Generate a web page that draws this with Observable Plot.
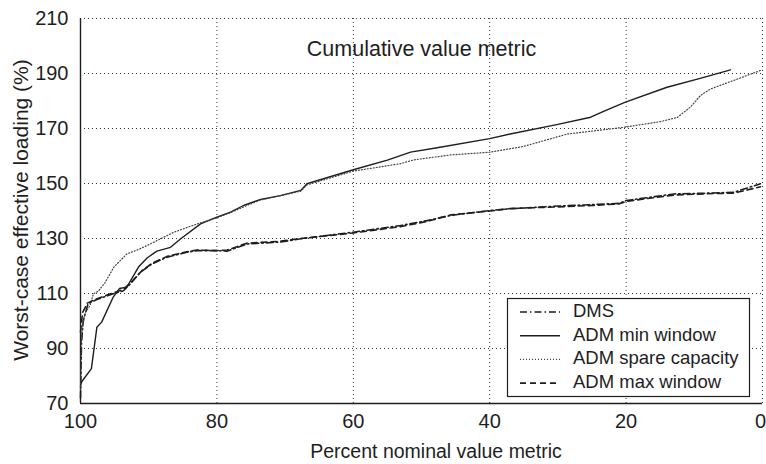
<!DOCTYPE html>
<html>
<head>
<meta charset="utf-8">
<script src="https://cdn.jsdelivr.net/npm/d3@7"></script>
<script src="https://cdn.jsdelivr.net/npm/@observablehq/plot@0.6"></script>
<style>
  html, body { margin: 0; padding: 0; background: white; }
</style>
</head>
<body>
<div id="chart"></div>
<script>
const xTicks = [100, 80, 60, 40, 20, 0];
const yTicks = [70, 90, 110, 130, 150, 170, 190, 210];
const titleText = "Cumulative value metric";
const xLabel = "Percent nominal value metric";
const yLabel = "Worst-case effective loading (%)";
const seriesNames = ["DMS", "ADM min window", "ADM spare capacity", "ADM max window"];

const dmsX = [100, 99.85, 99.6, 98.9, 97.7, 95.2, 93.7, 92.5, 91.2, 89.5, 87.3, 84.4, 82.9, 80, 78.5, 75.6, 70.7, 67.7, 60, 53.1, 49.2, 45.7, 39.9, 37, 30, 25, 21, 20, 13, 8, 4.2, 0.3];
const dmsY = [72, 92, 100, 106.3, 107.7, 109.9, 111, 114, 117.8, 120.8, 123.2, 125, 125.6, 125.6, 125.4, 128, 128.7, 129.9, 132.3, 134.7, 136.5, 138.4, 140.2, 140.8, 141.8, 142.3, 142.8, 143.8, 146.2, 146.5, 146.8, 149.9];

const minX = [100, 99.8, 98.4, 97.6, 96.9, 95.2, 94.3, 93.2, 91.5, 90.2, 88.8, 86.8, 85.3, 82.4, 80, 78, 76.1, 73.6, 70.7, 67.7, 66.8, 60, 55, 51.6, 47.7, 40, 37, 30, 25.2, 23.3, 20.1, 14, 9, 4.7];
const minY = [76.5, 78, 82.7, 97.7, 99.6, 108.7, 111.8, 112.3, 119.6, 123, 125.4, 126.8, 129.9, 135.3, 137.8, 139.6, 142, 144.2, 145.6, 147.5, 149.9, 155, 158.5, 161.4, 163, 166.3, 168, 171.5, 174.1, 176.2, 179.6, 185, 188.3, 191.3];

const spareX = [100, 99.85, 99.4, 98.6, 98.1, 97.4, 96.4, 95.1, 93.2, 91.5, 90.2, 86.3, 82.9, 80, 78, 75.6, 73.6, 67.7, 66.8, 60, 53.1, 51.1, 45.7, 39.9, 35, 28.6, 20.1, 15, 12.5, 10.6, 9.1, 7.6, 4.2, 0.3];
const spareY = [75, 95, 102.6, 105.6, 109.9, 110.8, 114, 119.6, 124.4, 126, 127.5, 132.3, 135.3, 137.5, 139.4, 142, 144, 147.2, 149.5, 154.5, 157.2, 158.6, 160.4, 161.4, 163.5, 168, 170.5, 172.5, 174, 177.7, 182, 184.4, 187.5, 191.1];

const maxX = [100, 99.7, 99, 97.7, 95.2, 93.7, 92.5, 91, 89.5, 87.3, 84.4, 82.9, 80, 78.5, 75.6, 70.7, 67.7, 60, 53.1, 49.2, 45.7, 39.9, 37, 30, 25, 21, 20, 13, 8, 4.2, 0.3];
const maxY = [96, 103, 106.5, 108, 110.2, 111.5, 114.3, 118.3, 121, 123.5, 125.2, 125.8, 125.6, 125.8, 128.3, 129, 130, 132, 134.3, 136.2, 138.6, 140, 140.9, 141.5, 142, 142.6, 143.5, 145.8, 146.3, 146.5, 148.8];

const toRows = (xs, ys) => xs.map((x, i) => ({x, y: ys[i]}));
const ink = "#1e1e1e";
const styles = [
  {dash: "7,3,1.5,3", width: 1.6, color: ink},
  {dash: null, width: 1.4, color: ink},
  {dash: "1,2", width: 1.2, color: "#444"},
  {dash: "6,4", width: 1.6, color: ink}
];
const seriesData = [toRows(dmsX, dmsY), toRows(minX, minY), toRows(spareX, spareY), toRows(maxX, maxY)];

const font = "'Liberation Sans', Arial, Helvetica, sans-serif";

const plot = Plot.plot({
  width: 766,
  height: 464,
  marginLeft: 80,
  marginRight: 4,
  marginTop: 18,
  marginBottom: 61,
  style: {fontFamily: font, fontSize: "19px", color: ink, background: "white"},
  x: {domain: [100, 0]},
  y: {domain: [70, 210]},
  marks: [
    Plot.gridX(xTicks, {stroke: "#333", strokeOpacity: 1, strokeDasharray: "1,3", strokeWidth: 1}),
    Plot.gridY(yTicks, {stroke: "#333", strokeOpacity: 1, strokeDasharray: "1,3", strokeWidth: 1}),
    Plot.ruleX([100], {stroke: ink, strokeWidth: 1.4}),
    Plot.ruleY([70], {stroke: ink, strokeWidth: 1.4}),
    Plot.axisX(xTicks.slice(0, -1), {tickSize: 0, tickPadding: 10, label: null, fontSize: 20}),
    Plot.axisX(xTicks.slice(-1), {tickSize: 0, tickPadding: 10, label: null, fontSize: 20, dx: -2}),
    Plot.axisY(yTicks, {tickSize: 0, tickPadding: 12, label: null, fontSize: 20}),
    ...seriesData.map((d, i) => Plot.line(d, {x: "x", y: "y", stroke: styles[i].color, strokeWidth: styles[i].width, strokeDasharray: styles[i].dash})),
    Plot.text([titleText], {frameAnchor: "top", dy: 22, fontSize: 21.5, fill: ink})
  ]
});

document.getElementById("chart").appendChild(plot);

const svg = d3.select(plot);
svg.append("text")
  .attr("x", 436).attr("y", 453)
  .attr("text-anchor", "middle").attr("dominant-baseline", "middle")
  .attr("font-size", 19.5).attr("fill", ink)
  .text(xLabel);
svg.append("text")
  .attr("transform", "translate(22,210) rotate(-90)")
  .attr("text-anchor", "middle").attr("dominant-baseline", "middle")
  .attr("font-size", 21).attr("fill", ink)
  .text(yLabel);

const lg = svg.append("g");
lg.append("rect").attr("x", 507.5).attr("y", 298.5).attr("width", 242).attr("height", 98)
  .attr("fill", "white").attr("stroke", ink).attr("stroke-width", 1.2);
seriesNames.forEach((name, i) => {
  const cy = 312 + i * 23.7;
  lg.append("line").attr("x1", 520).attr("x2", 560).attr("y1", cy).attr("y2", cy)
    .attr("stroke", styles[i].color).attr("stroke-width", styles[i].width)
    .attr("stroke-dasharray", styles[i].dash);
  lg.append("text").attr("x", 573).attr("y", cy)
    .attr("text-anchor", "start")
    .attr("dominant-baseline", "middle").attr("font-size", 18.5).attr("fill", ink)
    .text(name);
});
</script>
</body>
</html>
